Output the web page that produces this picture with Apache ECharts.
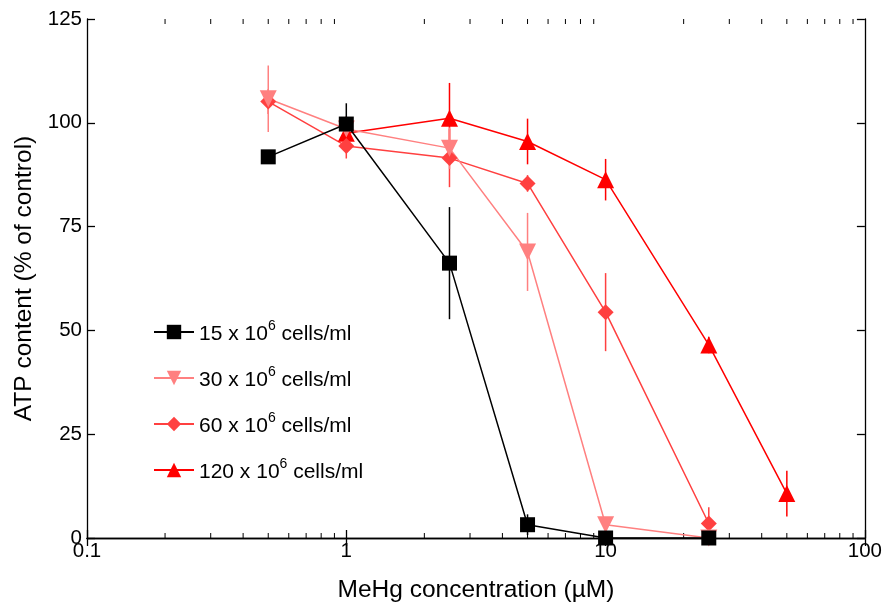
<!DOCTYPE html>
<html>
<head>
<meta charset="utf-8">
<script src="https://cdn.jsdelivr.net/npm/echarts@6/dist/echarts.min.js"></script>
<style>
  html, body { margin: 0; padding: 0; background: #fff; }
  #chart { width: 885px; height: 609px; }
</style>
</head>
<body>
<div id="chart"></div>
<script>
// concentrations (uM) and ATP content (% of control) +/- error per cell density
const conc15 = [0.5, 1, 2.5, 5, 10, 25];
const atp15  = [91.8, 99.7, 66.2, 3.2, 0, 0];
const err15  = [0, 5, 13.5, 2.5, 0, 0];

const conc30 = [0.5, 1, 2.5, 5, 10, 25];
const atp30  = [105.8, 98.5, 93.9, 68.9, 3.2, 0];
const err30  = [8, 3, 5, 9.4, 1, 0];

const conc60 = [0.5, 1, 2.5, 5, 10, 25];
const atp60  = [105.1, 94.4, 91.5, 85.4, 54.4, 3.5];
const err60  = [3, 3, 7, 2, 9.4, 3.9];

const conc120 = [1, 2.5, 5, 10, 25, 50];
const atp120  = [97.5, 101.1, 95.5, 86.3, 46.5, 10.7];
const err120  = [4, 8.5, 5.5, 5, 2, 5.5];

const names = ['15 x 10^6 cells/ml', '30 x 10^6 cells/ml', '60 x 10^6 cells/ml', '120 x 10^6 cells/ml'];
const xTicks = [0.1, 1, 10, 100];

const font = 'Liberation Sans, Arial, sans-serif';

// minor ticks for the log axis (2..9 in each decade)
let minorVals = [];
for (let d of [0.1, 1, 10]) {
  for (let k = 2; k <= 9; k++) minorVals.push([d * k, 0]);
}

function pairs(xs, ys) {
  return xs.map((x, i) => [x, ys[i]]);
}
function errData(xs, ys, es) {
  let out = [];
  xs.forEach((x, i) => {
    if (es[i] > 0) out.push([x, ys[i] - es[i], ys[i] + es[i]]);
  });
  return out;
}

function errRender(params, api) {
  let p1 = api.coord([api.value(0), api.value(1)]);
  let p2 = api.coord([api.value(0), api.value(2)]);
  return {
    type: 'line',
    shape: { x1: p1[0], y1: p1[1], x2: p2[0], y2: p2[1] },
    style: { stroke: api.visual('color'), lineWidth: 1.5 }
  };
}

function minorRender(params, api) {
  let b = api.coord([api.value(0), 0]);
  let t = api.coord([api.value(0), 125]);
  return {
    type: 'group',
    children: [
      { type: 'line', shape: { x1: b[0], y1: b[1], x2: b[0], y2: b[1] - 5 }, style: { stroke: '#000', lineWidth: 1 } },
      { type: 'line', shape: { x1: t[0], y1: t[1], x2: t[0], y2: t[1] + 5 }, style: { stroke: '#000', lineWidth: 1 } }
    ]
  };
}

function errSeries(color, data) {
  return {
    type: 'custom',
    renderItem: errRender,
    data: data,
    itemStyle: { color: color },
    encode: { x: 0, y: [1, 2] },
    clip: false,
    silent: true
  };
}

function lineSeries(name, color, symbol, size, data, rotate) {
  return {
    name: name,
    type: 'line',
    data: data,
    symbol: symbol,
    symbolSize: size,
    symbolRotate: rotate || 0,
    showSymbol: true,
    color: color,
    itemStyle: { color: color, opacity: 1 },
    lineStyle: { color: color, width: 1.5 },
    emphasis: { disabled: true },
    animation: false
  };
}

const colors = ['#000000', '#ff8080', '#ff4040', '#ff0000'];

let chart = echarts.init(document.getElementById('chart'));
let option = {
  backgroundColor: '#fff',
  animation: false,
  textStyle: { fontFamily: font },
  grid: { left: 87, right: 20, top: 19, bottom: 71 },
  legend: {
    data: names,
    orient: 'vertical',
    left: 153,
    top: 319,
    padding: 0,
    itemWidth: 40,
    itemHeight: 18,
    itemGap: 20,
    selectedMode: false,
    formatter: function (name) {
      let parts = name.split('^6');
      return '{t|' + parts[0] + '}{sup|6}{t|' + parts[1] + '}';
    },
    textStyle: {
      fontFamily: font,
      color: '#000',
      rich: {
        t: { fontSize: 21, lineHeight: 26, verticalAlign: 'bottom', fontFamily: font, color: '#000' },
        sup: { fontSize: 14, lineHeight: 14, verticalAlign: 'top', fontFamily: font, color: '#000' }
      }
    }
  },
  xAxis: [
    {
      type: 'log',
      logBase: 10,
      min: 0.1,
      max: 100,
      name: 'MeHg concentration (µM)',
      nameLocation: 'middle',
      nameGap: 40,
      nameTextStyle: { fontSize: 24.5, color: '#000', fontFamily: font },
      axisLine: { lineStyle: { color: '#000', width: 1.3 } },
      axisTick: { inside: true, length: 8, lineStyle: { color: '#000', width: 1.3 }, customValues: xTicks },
      axisLabel: {
        color: '#000', fontSize: 20.5, margin: 3, fontFamily: font,
        customValues: xTicks,
        formatter: function (v) { return String(+v.toPrecision(3)); }
      },
      splitLine: { show: false },
      minorTick: { show: false }
    },
    {
      type: 'log',
      logBase: 10,
      min: 0.1,
      max: 100,
      position: 'top',
      axisLine: { lineStyle: { color: '#000', width: 1.3 } },
      axisTick: { inside: true, length: 8, lineStyle: { color: '#000', width: 1.3 }, customValues: xTicks },
      axisLabel: { show: false },
      splitLine: { show: false }
    }
  ],
  yAxis: [
    {
      type: 'value',
      min: 0,
      max: 125,
      interval: 25,
      name: 'ATP content (% of control)',
      nameLocation: 'middle',
      nameGap: 50,
      nameTextStyle: { fontSize: 24.5, color: '#000', fontFamily: font },
      axisLine: { show: true, lineStyle: { color: '#000', width: 1.3 } },
      axisTick: { show: true, inside: true, length: 8, lineStyle: { color: '#000', width: 1.3 } },
      axisLabel: { color: '#000', fontSize: 20.5, margin: 5, fontFamily: font },
      splitLine: { show: false }
    },
    {
      type: 'value',
      min: 0,
      max: 125,
      interval: 25,
      position: 'right',
      axisLine: { show: true, lineStyle: { color: '#000', width: 1.3 } },
      axisTick: { show: true, inside: true, length: 8, lineStyle: { color: '#000', width: 1.3 } },
      axisLabel: { show: false },
      splitLine: { show: false }
    }
  ],
  series: [
    {
      type: 'custom',
      renderItem: minorRender,
      data: minorVals,
      encode: { x: 0, y: 1 },
      clip: false,
      silent: true
    },
    errSeries(colors[3], errData(conc120, atp120, err120)),
    lineSeries(names[3], colors[3], 'triangle', 17, pairs(conc120, atp120)),
    errSeries(colors[2], errData(conc60, atp60, err60)),
    lineSeries(names[2], colors[2], 'diamond', 16, pairs(conc60, atp60)),
    errSeries(colors[1], errData(conc30, atp30, err30)),
    lineSeries(names[1], colors[1], 'triangle', 17, pairs(conc30, atp30), 180),
    errSeries(colors[0], errData(conc15, atp15, err15)),
    lineSeries(names[0], colors[0], 'rect', 15, pairs(conc15, atp15))
  ]
};
chart.setOption(option);
</script>
</body>
</html>
